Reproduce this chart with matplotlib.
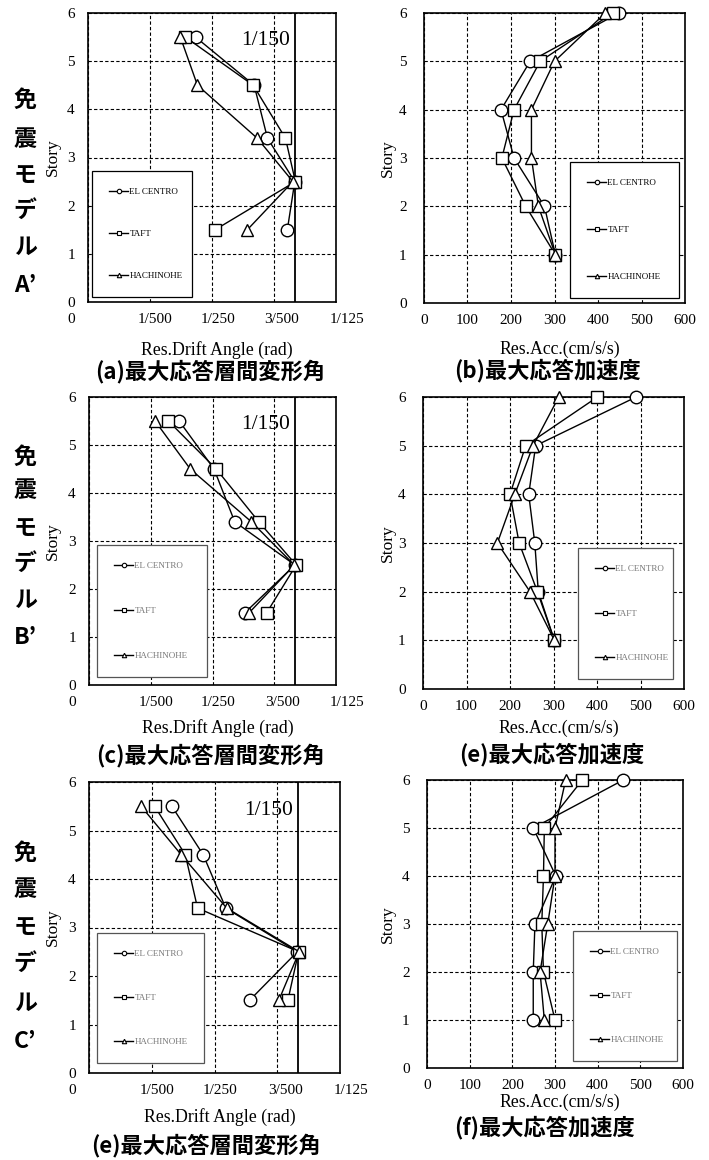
import matplotlib
matplotlib.use('Agg')
import matplotlib.pyplot as plt
import matplotlib.transforms as mtransforms
from matplotlib.lines import Line2D

plt.rcParams['font.family'] = ['Liberation Serif', 'DejaVu Serif']
jp = ['Noto Sans CJK JP', 'DejaVu Sans']

W, H = 709, 1160

# ---- data ----
story_drift = [5.5, 4.5, 3.4, 2.5, 1.5]
story_acc = [6, 5, 4, 3, 2, 1]
names = ['EL CENTRO', 'TAFT', 'HACHINOHE']
markers = ['o', 's', '^']

drift_ticks = [0, 0.002, 0.004, 0.006, 0.008]
drift_labels = ['0', '1/500', '1/250', '3/500', '1/125']
drift_limit = 1 / 150
acc_ticks = [0, 100, 200, 300, 400, 500, 600]

# rad, order: EL CENTRO, TAFT, HACHINOHE
drift_A = [[0.00347, 0.00536, 0.00579, 0.00667, 0.00643],
           [0.00314, 0.00533, 0.00637, 0.00669, 0.00410],
           [0.00298, 0.00353, 0.00546, 0.00661, 0.00514]]
drift_B = [[0.00292, 0.00405, 0.00472, 0.00667, 0.00504],
           [0.00257, 0.00412, 0.00550, 0.00671, 0.00575],
           [0.00214, 0.00328, 0.00526, 0.00665, 0.00518]]
drift_C = [[0.00264, 0.00364, 0.00436, 0.00664, 0.00512],
           [0.00209, 0.00307, 0.00346, 0.00668, 0.00634],
           [0.00166, 0.00294, 0.00439, 0.00670, 0.00605]]

# cm/s/s
acc_A = [[448, 244, 177, 207, 277, 302],
         [434, 267, 207, 179, 234, 302],
         [417, 300, 247, 247, 263, 302]]
acc_B = [[490, 259, 243, 257, 265, 302],
         [401, 236, 200, 221, 263, 302],
         [312, 253, 211, 171, 246, 302]]
acc_C = [[460, 249, 302, 253, 249, 249],
         [364, 275, 273, 269, 273, 300],
         [325, 300, 300, 283, 265, 275]]

models = ['A’', 'B’', 'C’']
cap_drift = ['(a)最大応答層間変形角', '(c)最大応答層間変形角', '(e)最大応答層間変形角']
cap_acc = ['(b)最大応答加速度', '(e)最大応答加速度', '(f)最大応答加速度']

# ---- layout in pixels (left, top, right, bottom) ----
drift_box = [(88, 13, 336, 302), (89, 397, 336, 685), (89, 782, 340, 1073)]
acc_box = [(424, 13, 685, 303), (423, 397, 684, 689), (427, 780, 683, 1068)]
drift_leg = [(92, 171, 192, 297), (97, 545, 207, 677), (97, 933, 204, 1063)]
acc_leg = [(570, 162, 679, 298), (578, 548, 673, 679), (573, 931, 677, 1061)]
drift_xlab = [48, 43, 44]
acc_xlab = [46, 39, 34]
cap_drift_pos = [(210, 371), (210, 755), (206, 1145)]
cap_acc_pos = [(548, 371), (552, 755), (545, 1128)]
side_y = [[100, 140, 175, 210, 247, 285],
          [457, 491, 528, 563, 600, 637],
          [853, 890, 927, 963, 1003, 1042]]
side_chars = ['免', '震', 'モ', 'デ', 'ル']

fig = plt.figure(figsize=(W / 100, H / 100), dpi=100)


def add_ax(box):
    l, t, r, b = box
    return fig.add_axes([l / W, 1 - b / H, (r - l) / W, (b - t) / H])


def style(ax):
    ax.set_axisbelow(True)
    ax.grid(True, color='k', ls=(0, (3, 2)), lw=0.8)
    ax.tick_params(length=0, labelsize=11)
    for s in ax.spines.values():
        s.set_linewidth(1.2)
    ax.set_ylim(0, 6)
    ax.set_yticks(range(7))
    ax.set_ylabel('Story', fontsize=12.5)
    ax.yaxis.label.set_va('center')


def legend(ax, box, axbox, grey):
    l, t, r, b = box
    al, at, ar, ab = axbox
    x0 = (l - al) / (ar - al)
    y1 = (ab - t) / (ab - at)
    w = (r - l) / (ar - al)
    h = (b - t) / (ab - at)
    hs = [Line2D([], [], color='k', lw=1, marker=m, ms=3.2, mfc='w', mec='k', mew=0.8)
          for m in markers]
    fs = 6.5 * 100 / 72
    bp = 1.9
    ls = ((b - t) - 2 * bp * fs - 3 * 8.3) / (2 * fs)
    leg = ax.legend(hs, names, loc='upper left', bbox_to_anchor=(x0, y1 - h, w, h),
                    mode='expand', borderaxespad=0, fontsize=6.5, labelspacing=ls,
                    borderpad=bp, handlelength=2.1, handletextpad=0.15,
                    fancybox=False, framealpha=1,
                    edgecolor='#555555' if grey else 'k',
                    labelcolor='#777777' if grey else 'k')
    leg.get_frame().set_linewidth(0.9)


for i, (dd, aa) in enumerate([(drift_A, acc_A), (drift_B, acc_B), (drift_C, acc_C)]):
    # drift angle panel
    ax = add_ax(drift_box[i])
    style(ax)
    for vals, m in zip(dd, markers):
        ax.plot(vals, story_drift, color='k', lw=1, marker=m, ms=9, mfc='w',
                mec='k', mew=1, clip_on=False, zorder=3)
    ax.axvline(drift_limit, color='k', lw=1.3, zorder=2)
    ax.text(0.00573, 5.42, '1/150', fontsize=15.5, ha='center', va='center')
    ax.set_xlim(0, 0.008)
    ax.set_xticks(drift_ticks)
    ax.set_xticklabels(drift_labels)
    ax.tick_params(axis='y', pad=9.5)
    ax.tick_params(axis='x', pad=8)
    for lab, dx in zip(ax.get_xticklabels(), [-17, 5, 6, 8, 11]):
        lab.set_transform(lab.get_transform() +
                          mtransforms.ScaledTranslation(dx / 100, 0, fig.dpi_scale_trans))
    l, t, r, b = drift_box[i]
    ax.set_xlabel('Res.Drift Angle (rad)', fontsize=12.8)
    ax.xaxis.set_label_coords(0.52, -drift_xlab[i] / (b - t), transform=ax.transAxes)
    ax.xaxis.label.set_va('center')
    ax.yaxis.set_label_coords((53 - l) / (r - l), 0.5)
    legend(ax, drift_leg[i], drift_box[i], i > 0)

    # acceleration panel
    ax = add_ax(acc_box[i])
    style(ax)
    for vals, m in zip(aa, markers):
        ax.plot(vals, story_acc, color='k', lw=1, marker=m, ms=9, mfc='w',
                mec='k', mew=1, clip_on=False, zorder=3)
    ax.set_xlim(0, 600)
    ax.set_xticks(acc_ticks)
    ax.tick_params(axis='y', pad=12.5)
    ax.tick_params(axis='x', pad=8)
    l, t, r, b = acc_box[i]
    ax.set_xlabel('Res.Acc.(cm/s/s)', fontsize=12.8)
    ax.xaxis.set_label_coords(0.52, -acc_xlab[i] / (b - t), transform=ax.transAxes)
    ax.xaxis.label.set_va('center')
    ax.yaxis.set_label_coords((388 - l) / (r - l), 0.5)
    legend(ax, acc_leg[i], acc_box[i], i > 0)

    # captions
    x, y = cap_drift_pos[i]
    fig.text(x / W, 1 - y / H, cap_drift[i], family=jp, fontsize=16,
             weight='bold', ha='center', va='center')
    x, y = cap_acc_pos[i]
    fig.text(x / W, 1 - y / H, cap_acc[i], family=jp, fontsize=16,
             weight='bold', ha='center', va='center')

    # vertical model label
    for ch, y in zip(side_chars + [models[i]], side_y[i]):
        fig.text(25 / W, 1 - y / H, ch, family=jp, fontsize=16.5, weight='bold',
                 ha='center', va='center')

fig.savefig('out.png', dpi=100)
